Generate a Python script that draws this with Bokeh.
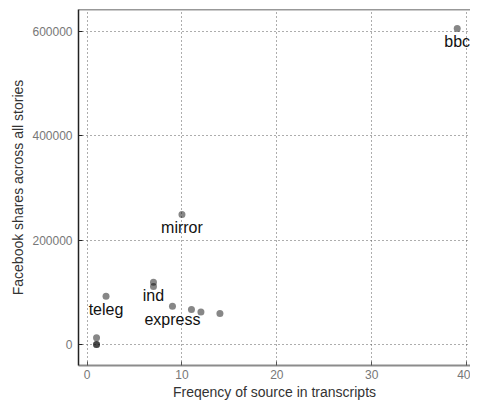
from bokeh.plotting import figure
from bokeh.models import ColumnDataSource, FixedTicker, Span, BasicTickFormatter
from bokeh.core.properties import value
from bokeh.embed import file_html
from bokeh.resources import INLINE

# Data: frequency of source in transcripts vs Facebook shares
freq = [39, 10, 7, 7, 2, 9, 11, 12, 14, 1, 1, 1]
shares = [606000, 249000, 119000, 111000, 92500, 73000, 66800, 62000, 59400, 12900, 0, 0]

# Labelled outlets
outlets = ["bbc", "mirror", "ind", "teleg", "express"]
outlet_freq = [39, 10, 7, 2, 9]
outlet_shares = [606000, 249000, 119000, 92500, 73000]

x_ticks = [0, 10, 20, 30, 40]
y_ticks = [0, 200000, 400000, 600000]

x_lo, x_hi = -0.9, 40.4
y_lo, y_hi = -40500, 642300

FONT = "Liberation Sans"

p = figure(width=470, height=403, x_range=(x_lo, x_hi), y_range=(y_lo, y_hi),
           output_backend="svg", toolbar_location=None,
           min_border_left=78, min_border_right=0, min_border_top=9, min_border_bottom=38)
p.outline_line_color = None
p.background_fill_color = "white"
p.border_fill_color = "white"

# grids
for g in (p.xgrid, p.ygrid):
    g.grid_line_color = "#5a5a5a"
    g.grid_line_dash = "1 3"
    g.grid_line_width = 1
p.xaxis.ticker = FixedTicker(ticks=x_ticks)
p.yaxis.ticker = FixedTicker(ticks=y_ticks)
p.yaxis.formatter = BasicTickFormatter(use_scientific=False)

for ax in (p.xaxis, p.yaxis):
    ax.major_tick_in = 4
    ax.major_tick_out = 0
    ax.minor_tick_line_color = None
    ax.major_label_text_font = FONT
    ax.major_label_text_font_size = "12px"
    ax.major_label_text_color = "#777777"
    ax.axis_label_text_font = FONT
    ax.axis_label_text_font_size = "14px"
    ax.axis_label_text_font_style = "normal"
    ax.axis_label_text_color = "#333333"

p.xaxis.axis_label = "Freqency of source in transcripts"
p.xaxis.axis_line_color = "#8c8c8c"
p.xaxis.axis_line_width = 2
p.xaxis.major_tick_line_color = "#555555"
p.xaxis.major_label_standoff = 4
p.xaxis.axis_label_standoff = 2

p.yaxis.axis_label = "Facebook shares across all stories"
p.yaxis.axis_line_color = "#222222"
p.yaxis.axis_line_width = 1.5
p.yaxis.major_tick_line_color = "#222222"
p.yaxis.major_label_standoff = 6
p.yaxis.axis_label_standoff = 3

# top border
p.add_layout(Span(location=y_hi, dimension="width", line_color="#333333", line_width=1.5))

src = ColumnDataSource(dict(x=freq, y=shares))
p.scatter(x="x", y="y", source=src, size=7, fill_color="black", fill_alpha=0.47, line_color=None)

lab = ColumnDataSource(dict(x=outlet_freq, y=outlet_shares, t=outlets))
p.text(x="x", y="y", text="t", source=lab, text_align="center", text_baseline="middle",
       y_offset=13, text_font=value(FONT), text_font_size="16px", text_color="#111111")

open("out.html", "w").write(file_html(p, INLINE))
